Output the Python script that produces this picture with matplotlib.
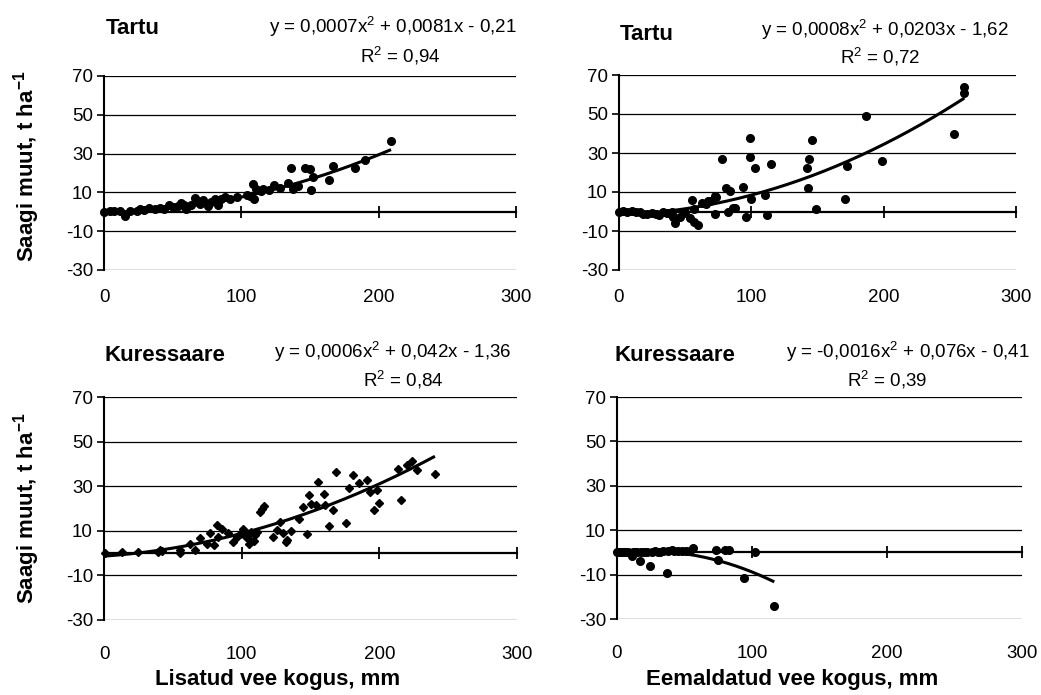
import matplotlib
matplotlib.use("Agg")
import matplotlib.pyplot as plt
import numpy as np

plt.rcParams["font.family"] = ["Liberation Sans", "DejaVu Sans"]
plt.rcParams["mathtext.fontset"] = "custom"
plt.rcParams["mathtext.rm"] = "Liberation Sans"
plt.rcParams["mathtext.it"] = "Liberation Sans:italic"
plt.rcParams["mathtext.bf"] = "Liberation Sans:bold"
plt.rcParams["axes.unicode_minus"] = False

# Tartu, added water (mm) vs yield change (t/ha)
tartu_add_x = [0, 4.5, 7, 12, 15, 19, 24, 26, 29, 33, 37, 41, 44, 47, 50, 54, 56, 58, 60, 63,
               66, 68, 70, 72, 76, 78, 81, 83, 85, 88, 92, 97, 104, 106, 108.5, 109, 111, 114,
               116, 120, 124, 128, 134, 136, 137.5, 141, 146, 150, 151, 152, 164, 167, 183, 190, 209]
tartu_add_y = [0, 0.5, 0.3, 0.2, -2, 0.5, 0.6, 1.2, 0.9, 1.8, 1.2, 2.0, 1.5, 3.4, 2.5, 3.0, 4.6, 3.4, 1.2, 3.6,
               7.2, 5.5, 4.2, 6.0, 2.9, 5.2, 6.4, 3.4, 6.8, 7.6, 6.6, 7.4, 8.6, 8.0, 14.5, 6.4, 11.6, 10.5,
               12.0, 11.2, 13.8, 12.4, 15.0, 22.4, 11.8, 13.5, 22.6, 22.0, 11.0, 18.0, 16.4, 23.6, 22.6, 26.8, 36.4]

# Tartu, removed water
tartu_rem_x = [0, 3, 6, 10, 13, 16, 18, 21, 25, 28, 30, 33, 36, 37, 40, 41, 42, 46, 49, 50,
               54, 55, 57, 57, 60, 63, 66, 67, 69, 72.5, 72.5, 73, 78, 81, 82, 84, 86, 88, 94, 96,
               99, 99, 100, 103, 110, 112, 115, 142, 143, 143.5, 146, 149, 171, 172.5, 186.5, 199,
               253, 260.5, 261]
tartu_rem_y = [0, 0.2, 0, 0.3, 0, -0.5, -1.5, -1.5, -1, -1.3, -1.8, -0.5, -1, -1, -0.3, -3, -5.8, -3, -1, 0,
               -3.4, 5.8, 1.5, -5.2, -6.7, 4.4, 4, 5.3, 5.3, 7.9, -1.5, 7.5, 27, 12.3, -0.5, 10.4, 1.9, 1.9, 12.8, -2.7,
               37.8, 28, 6.3, 22.4, 8.5, -2, 24.6, 22.4, 12.1, 26.7, 36.6, 1.5, 6.5, 23.2, 48.9, 25.8,
               39.5, 60.8, 63.7]

# Kuressaare, added water
kur_add_x = [0.7, 12.8, 25, 39.5, 40.7, 42, 55, 55, 62.5, 66, 69.7, 74.5, 77, 80, 81.8, 83, 85.4, 90,
             94, 96.4, 99, 101, 103.5, 104, 105, 106, 107, 108.7, 110, 111, 113.3, 114.5, 116, 122.5,
             126, 127.8, 130.3, 132.7, 132, 135.6, 142, 144.8, 147.6, 149, 150.5, 154, 155.6, 159.8,
             160.5, 163.6, 166.5, 168.2, 176, 178, 180.6, 185, 190.7, 193, 196, 198, 199.6, 213.7,
             215.7, 219.8, 223.5, 227, 240.4]
kur_add_y = [0, 0.3, 0.3, 0.4, 1.6, 0.8, 1.3, 0.2, 4.3, 1.3, 6.6, 4.3, 8.8, 3.6, 12.5, 7, 11, 9,
             5, 7, 8.5, 11, 7, 9, 4, 6, 9.5, 5.5, 8, 9.5, 18.6, 20, 21, 7.3,
             10.5, 14, 9, 6, 5, 9.8, 15.5, 20.7, 8.5, 26, 22.2, 21.5, 31.9, 26.4,
             21.5, 12.2, 19.2, 36.4, 13.6, 29.4, 34.9, 31.5, 32.7, 27.5, 19.2, 28.2, 22.5, 37.9,
             24, 39.4, 41.3, 37.3, 35.4]

# Kuressaare, removed water
kur_rem_x = [0, 1.5, 3, 4.7, 6, 8, 10.9, 12, 13, 15, 17, 18, 20, 22, 24.4, 26, 28, 30, 32, 34,
             37.3, 38, 40.5, 42, 45, 48, 51, 54, 56.5, 73.3, 75, 80, 83, 94, 102, 116.5]
kur_rem_y = [0, 0.2, 0, 0, 0.3, 0, -1.6, 0.3, 0, 0.2, -3.9, 0.4, 0, 0.3, -6.2, 0.2, 0.5, 0.2, 0.4, 0.5,
             -9.1, 0.6, 1.2, 0.5, 0.6, 0.5, 0.6, 0.8, 1.8, 1.2, -3.6, 1.3, 1.3, -11.4, 0, -24.2]

# Quadratic trend coefficients (a, b, c) and R^2
tartu_add_fit = (0.0007, 0.0081, -0.21)
tartu_rem_fit = (0.0008, 0.0203, -1.62)
kur_add_fit = (0.0006, 0.042, -1.36)
kur_rem_fit = (-0.0016, 0.076, -0.41)
tartu_add_r2 = "0,94"
tartu_rem_r2 = "0,72"
kur_add_r2 = "0,84"
kur_rem_r2 = "0,39"

x_ticks = [0, 100, 200, 300]
y_ticks = [70, 50, 30, 10, -10, -30]

TICK_FS = 13.5
EQ_FS = 13.5
TITLE_FS = 16
LABEL_FS = 16

W, H = 1041, 695
fig = plt.figure(figsize=(W / 100, H / 100), dpi=100)


def fx(x):
    return x / W


def fy(y):
    return 1 - y / H


def panel(rect, xs, ys, fit, marker, ms, label_pad):
    left, top, right, bottom = rect
    ax = fig.add_axes([fx(left), fy(bottom), (right - left) / W, (bottom - top) / H])
    ax.set_xlim(0, 300)
    ax.set_ylim(-30, 70)
    ax.set_yticks(y_ticks)
    ax.yaxis.grid(True, color="black", lw=0.9)
    ax.set_axisbelow(True)
    for s in ("top", "right"):
        ax.spines[s].set_visible(False)
    ax.spines["left"].set_linewidth(1.5)
    ax.spines["bottom"].set_position(("data", 0))
    ax.spines["bottom"].set_linewidth(1.6)
    ax.set_xticks(x_ticks)
    ax.tick_params(axis="x", direction="inout", length=9, width=1.3, labelbottom=False)
    ax.tick_params(axis="y", direction="out", length=5, width=1.2, labelsize=TICK_FS, pad=3)
    sec = ax.secondary_xaxis("bottom")
    sec.set_xticks(x_ticks)
    sec.tick_params(length=0, pad=label_pad, labelsize=TICK_FS)
    sec.spines["bottom"].set_visible(False)
    ax.plot(xs, ys, ls="none", marker=marker, ms=ms, color="black", zorder=3, clip_on=False)
    a, b, c = fit
    xx = np.linspace(0, max(xs), 200)
    ax.plot(xx, a * xx ** 2 + b * xx + c, color="black", lw=2.2, zorder=4,
            solid_capstyle="butt")
    return ax


panel((104, 76, 516, 270), tartu_add_x, tartu_add_y, tartu_add_fit, "o", 5.5, 14)
panel((619, 75, 1016, 270), tartu_rem_x, tartu_rem_y, tartu_rem_fit, "o", 5.5, 14)
panel((104, 397, 517, 620), kur_add_x, kur_add_y, kur_add_fit, "D", 4.2, 19)
panel((617, 397, 1022, 619), kur_rem_x, kur_rem_y, kur_rem_fit, "o", 5.5, 19)


def eq_text(fit):
    a, b, c = fit

    def dec(v):
        return f"{abs(v):.4f}".rstrip("0").replace(".", ",")

    sa = ("-" if a < 0 else "") + dec(a)
    return f"y = {sa}x$^2$ {'-' if b < 0 else '+'} {dec(b)}x {'-' if c < 0 else '+'} {dec(c)}"


titles = [("Tartu", 133, 28), ("Tartu", 647, 34), ("Kuressaare", 165, 355), ("Kuressaare", 675, 355)]
for t, x, y in titles:
    fig.text(fx(x), fy(y), t, fontsize=TITLE_FS, fontweight="bold", ha="center", va="center")

eqs = [(tartu_add_fit, tartu_add_r2, 393, 27, 400, 56),
       (tartu_rem_fit, tartu_rem_r2, 885, 30, 880, 57),
       (kur_add_fit, kur_add_r2, 393, 352, 403, 380),
       (kur_rem_fit, kur_rem_r2, 908, 352, 887, 380)]
for fit, r2, ex, ey, rx, ry in eqs:
    fig.text(fx(ex), fy(ey), eq_text(fit), fontsize=EQ_FS, ha="center", va="center")
    fig.text(fx(rx), fy(ry), f"R$^2$ = {r2}", fontsize=EQ_FS, ha="center", va="center")

ylab = r"Saagi muut, t ha$^{\mathbf{-1}}$"
fig.text(fx(27), fy(166), ylab, fontsize=LABEL_FS, fontweight="bold", rotation=90, ha="center", va="center")
fig.text(fx(27), fy(508), ylab, fontsize=LABEL_FS, fontweight="bold", rotation=90, ha="center", va="center")

fig.text(fx(278), fy(680), "Lisatud vee kogus, mm", fontsize=LABEL_FS, fontweight="bold", ha="center", va="center")
fig.text(fx(792), fy(680), "Eemaldatud vee kogus, mm", fontsize=LABEL_FS, fontweight="bold", ha="center", va="center")

fig.savefig("out.png", dpi=100)
